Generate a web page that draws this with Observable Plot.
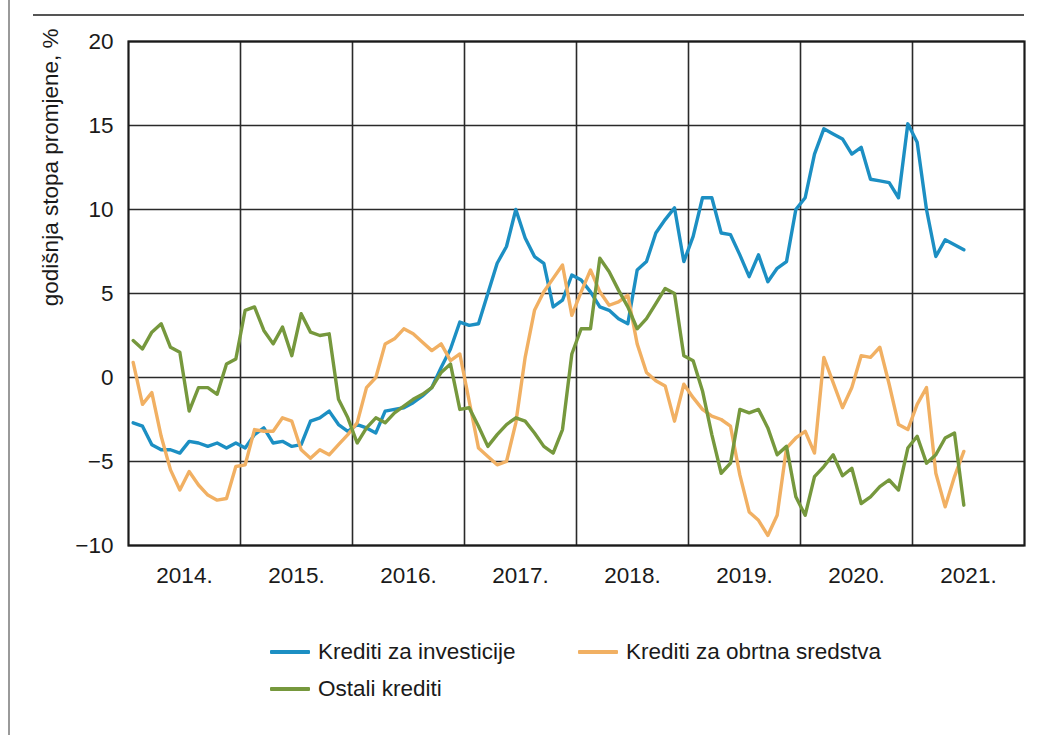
<!DOCTYPE html>
<html>
<head>
<meta charset="utf-8">
<script src="https://cdn.jsdelivr.net/npm/d3@7"></script>
<script src="https://cdn.jsdelivr.net/npm/@observablehq/plot@0.6"></script>
<style>
  html, body { margin: 0; padding: 0; background: #fff; }
  #wrap { position: relative; width: 1037px; height: 735px; overflow: hidden; background: #fff;
          font-family: "Liberation Sans", Arial, sans-serif; color: #1a1a1a; }
  #vline { position: absolute; left: 8px; top: 0; width: 2px; height: 735px; background: #9a9a9a; }
  #hline { position: absolute; left: 33px; top: 14px; width: 991px; height: 2px; background: #555; }
  #chart { position: absolute; left: 0; top: 0; }
  .leg { position: absolute; display: flex; align-items: center; font-size: 22.5px; white-space: nowrap; }
  .sw { width: 40px; height: 4px; margin-right: 8px; border-radius: 1px; }
</style>
</head>
<body>
<div id="wrap">
  <div id="vline"></div>
  <div id="hline"></div>
  <div id="chart"></div>
  <div id="legend"></div>
</div>
<script>
// ---- Data (monthly, Jan 2014 – Jun 2021), annual rate of change, % ----
const startYear = 2014;
const seriesNames = ["Krediti za investicije", "Krediti za obrtna sredstva", "Ostali krediti"];
const seriesColors = ["#1c8fc3", "#f1b063", "#76983d"];

const investicije = [
  -2.7, -2.9, -4.0, -4.3, -4.3, -4.5, -3.8, -3.9, -4.1, -3.9, -4.2, -3.9,
  -4.2, -3.4, -3.0, -3.9, -3.8, -4.1, -4.0, -2.6, -2.4, -2.0, -2.8, -3.2,
  -2.8, -3.0, -3.3, -2.0, -1.9, -1.8, -1.5, -1.1, -0.6, 0.6, 1.7, 3.3,
  3.1, 3.2, 5.0, 6.8, 7.8, 10.0, 8.3, 7.2, 6.8, 4.2, 4.6, 6.1,
  5.8, 5.1, 4.2, 4.0, 3.5, 3.2, 6.4, 6.9, 8.6, 9.4, 10.1, 6.9,
  8.4, 10.7, 10.7, 8.6, 8.5, 7.3, 6.0, 7.3, 5.7, 6.5, 6.9, 10.0,
  10.7, 13.3, 14.8, 14.5, 14.2, 13.3, 13.7, 11.8, 11.7, 11.6, 10.7, 15.1,
  14.0, 10.0, 7.2, 8.2, 7.9, 7.6
];
const obrtna = [
  0.9, -1.6, -0.9, -3.5, -5.5, -6.7, -5.6, -6.4, -7.0, -7.3, -7.2, -5.3,
  -5.2, -3.1, -3.2, -3.2, -2.4, -2.6, -4.3, -4.8, -4.3, -4.6, -4.0, -3.4,
  -2.7, -0.6, 0.0, 2.0, 2.3, 2.9, 2.6, 2.1, 1.6, 2.0, 1.0, 1.4,
  -1.4, -4.2, -4.7, -5.2, -5.0, -2.7, 1.2, 4.0, 5.1, 5.9, 6.7, 3.7,
  5.1, 6.4, 5.1, 4.3, 4.5, 4.9, 2.0, 0.3, -0.2, -0.5, -2.6, -0.4,
  -1.2, -1.9, -2.3, -2.5, -2.9, -5.8, -8.0, -8.5, -9.4, -8.2, -4.2, -3.6,
  -3.2, -4.5, 1.2, -0.3, -1.8, -0.6, 1.3, 1.2, 1.8, -0.4, -2.8, -3.1,
  -1.6, -0.6, -5.7, -7.7, -5.9, -4.4
];
const ostali = [
  2.2, 1.7, 2.7, 3.2, 1.8, 1.5, -2.0, -0.6, -0.6, -1.0, 0.8, 1.1,
  4.0, 4.2, 2.8, 2.0, 3.0, 1.3, 3.8, 2.7, 2.5, 2.6, -1.3, -2.4,
  -3.9, -3.0, -2.4, -2.7, -2.1, -1.7, -1.3, -1.0, -0.6, 0.3, 0.8, -1.9,
  -1.8, -2.9, -4.1, -3.4, -2.8, -2.4, -2.6, -3.3, -4.1, -4.5, -3.1, 1.4,
  2.9, 2.9, 7.1, 6.3, 5.2, 4.2, 2.9, 3.5, 4.4, 5.3, 5.0, 1.3,
  1.0, -0.8, -3.4, -5.7, -5.1, -1.9, -2.1, -1.9, -3.0, -4.6, -4.1, -7.1,
  -8.2, -5.9, -5.3, -4.6, -5.85, -5.4, -7.5, -7.1, -6.5, -6.1, -6.7, -4.2,
  -3.5, -5.1, -4.6, -3.6, -3.3, -7.6
];

const yearLabels = ["2014.", "2015.", "2016.", "2017.", "2018.", "2019.", "2020.", "2021."];
const yTicks = [-10, -5, 0, 5, 10, 15, 20];
const yTitle = "godišnja stopa promjene, %";

// ---- Build table ----
const seriesValues = [investicije, obrtna, ostali];
const rows = [];
seriesValues.forEach((vals, k) => {
  vals.forEach((v, i) => rows.push({ t: startYear + (i + 0.5) / 12, v, s: seriesNames[k] }));
});
const yearStarts = yearLabels.map((_, i) => startYear + i);
const yearMids = yearStarts.map(y => y + 0.5);
const endYear = startYear + yearLabels.length;

const font = '"Liberation Sans", Arial, sans-serif';

const chart = Plot.plot({
  width: 1037,
  height: 600,
  marginTop: 41,
  marginBottom: 55,
  marginLeft: 128,
  marginRight: 13,
  style: { fontFamily: font, fontSize: "22.5px", color: "#1a1a1a", background: "transparent" },
  x: { domain: [startYear, endYear] },
  y: { domain: [-10, 20] },
  color: { domain: seriesNames, range: seriesColors },
  marks: [
    Plot.ruleX(yearStarts.slice(1), { stroke: "#2a2a2a", strokeWidth: 1.6 }),
    Plot.ruleY(yTicks, { stroke: "#2a2a2a", strokeWidth: 1.6 }),
    Plot.frame({ stroke: "#1a1a1a", strokeWidth: 2.2 }),
    Plot.line(rows, { x: "t", y: "v", z: "s", stroke: "s", strokeWidth: 3.4, strokeLinejoin: "round", strokeLinecap: "round" }),
    Plot.axisX(yearMids, {
      tickSize: 0, tickPadding: 22, label: null,
      tickFormat: (d) => yearLabels[Math.round(d - 0.5) - startYear]
    }),
    Plot.axisY(yTicks, {
      tickSize: 0, tickPadding: 15, label: null,
      tickFormat: (d) => (d < 0 ? "\u2212" + Math.abs(d) : String(d))
    }),
    Plot.text([yTitle], {
      text: (d) => d, frameAnchor: "top-left", rotate: -90, textAnchor: "end",
      dx: -86, dy: -13, fontSize: 22.5, fill: "#1a1a1a"
    })
  ]
});
document.getElementById("chart").appendChild(chart);

// ---- Legend (HTML, below the SVG) ----
const legendPos = [
  { left: 270, top: 635 },
  { left: 578, top: 635 },
  { left: 270, top: 672 }
];
const legend = document.getElementById("legend");
seriesNames.forEach((name, k) => {
  const item = document.createElement("div");
  item.className = "leg";
  item.style.left = legendPos[k].left + "px";
  item.style.top = legendPos[k].top + "px";
  item.style.height = "34px";
  const sw = document.createElement("div");
  sw.className = "sw";
  sw.style.background = seriesColors[k];
  const tx = document.createElement("span");
  tx.textContent = name;
  item.appendChild(sw);
  item.appendChild(tx);
  legend.appendChild(item);
});
</script>
</body>
</html>
